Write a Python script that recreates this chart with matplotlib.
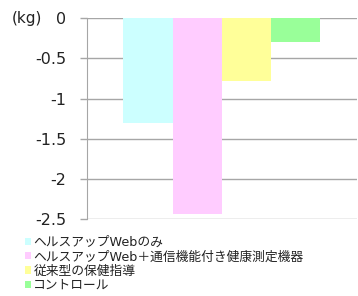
import matplotlib
matplotlib.use("Agg")
import matplotlib.pyplot as plt
from matplotlib.patches import Patch

plt.rcParams['font.family'] = ['DejaVu Sans', 'Noto Sans CJK JP']

labels = ["ヘルスアップWebのみ", "ヘルスアップWeb＋通信機能付き健康測定機器",
          "従来型の保健指導", "コントロール"]
values = [-1.30, -2.44, -0.78, -0.29]
colors = ["#ccffff", "#ffccff", "#ffff99", "#99ff99"]
yticks = [0, -0.5, -1, -1.5, -2, -2.5]
yticklabels = ["0", "-0.5", "-1", "-1.5", "-2", "-2.5"]

fig = plt.figure(figsize=(3.58, 2.96), dpi=100)
ax = fig.add_axes([87/358, 1-219/296, 270/358, (219-18.3)/296])

x = list(range(len(values)))
ax.bar(x, values, width=1.0, color=colors, zorder=3)

ax.set_ylim(-2.5, 0)
ax.set_xlim(-1.238, 4.25)
ax.set_yticks(yticks)
ax.set_yticklabels(yticklabels, fontsize=11.5, color="#222222")
ax.set_xticks([])
ax.yaxis.grid(True, color="#a6a6a6", linewidth=1.0, zorder=0)
ax.tick_params(axis="y", length=5, width=1.0, color="#a6a6a6", pad=10)
for s in ["top", "right", "bottom"]:
    ax.spines[s].set_visible(False)
ax.spines["left"].set_color("#a6a6a6")

fig.text(12/358, 1-18.3/296, "(kg)", fontsize=11, color="#222222", va="center", ha="left")

handles = [Patch(facecolor=c, edgecolor="none") for c in colors]
fig.legend(handles, labels, loc="upper left", bbox_to_anchor=(25/358, 1-236/296),
           frameon=False, fontsize=9.2, handlelength=0.5, handleheight=0.5,
           handletextpad=0.15, labelspacing=0.1, borderpad=0, borderaxespad=0,
           labelcolor="#222222")

fig.savefig("out.png", dpi=100)
